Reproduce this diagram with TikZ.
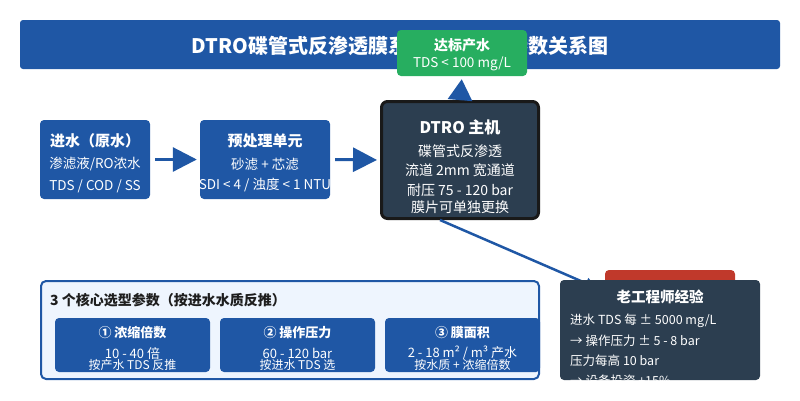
\documentclass[tikz,border=0pt]{standalone}
\usepackage{fontspec}
\setmainfont{Noto Sans CJK SC}
\usetikzlibrary{arrows.meta, calc, positioning}

\definecolor{mainblue}{HTML}{1F57A5}
\definecolor{darkbox}{HTML}{2C3E50}
\definecolor{okgreen}{HTML}{27AE60}
\definecolor{warnred}{HTML}{C0392B}
\definecolor{panelbg}{HTML}{EEF5FE}
\definecolor{inktext}{HTML}{1E1E1E}
\newcommand{\fsz}[1]{\fontsize{#1}{#1}\selectfont}

\begin{document}
\begin{tikzpicture}[
    x=1pt, y=-1pt,
    box/.style={rectangle, rounded corners=4pt, inner sep=0pt},
    bluebox/.style={box, fill=mainblue},
    darkbg/.style={box, fill=darkbox},
    head/.style={inner sep=0pt, text=white, font=\fsz{15}\bfseries},
    body/.style={inner sep=0pt, text=white, font=\fsz{13.5}},
    small/.style={inner sep=0pt, text=white, font=\fsz{12}},
    flow/.style={draw=mainblue, line width=3pt, -{Triangle[length=24pt,width=24pt]}}
]
\useasboundingbox (0,0) rectangle (800,400);

    % Title bar
    \node [bluebox, rounded corners=3pt, minimum width=760pt, minimum height=49pt] (title) at (400,44.5) {};
    \node [inner sep=0pt, text=white, font=\fsz{20}\bfseries] (titleText) at (400,46) {DTRO碟管式反渗透膜系统核心选型参数关系图};

    % Output target (sits over the title)
    \node [box, fill=okgreen, minimum width=130pt, minimum height=46pt] (target) at (462,53) {};
    \node [head, font=\fsz{14}\bfseries] (targetHead) at (462,45) {达标产水};
    \node [body, font=\fsz{13.5}] (targetBody) at (462,64) {TDS < 100 mg/L};

    % Process chain
    \node [bluebox, minimum width=110pt, minimum height=79pt] (feed) at (95,159.5) {};
    \node [head] (feedHead) at (95,141) {进水（原水）};
    \node [body] (feedA) at (95,164) {渗滤液/RO浓水};
    \node [body] (feedB) at (95,186) {TDS / COD / SS};

    \node [bluebox, minimum width=130pt, minimum height=79pt] (pre) at (265,159.5) {};
    \node [head] (preHead) at (265,141) {预处理单元};
    \node [body] (preA) at (265,164) {砂滤 + 芯滤};
    \node [body] (preB) at (265,185) {SDI < 4 / 浊度 < 1 NTU};

    \node [darkbg, rounded corners=6pt, draw=black!90, line width=3pt, minimum width=157pt, minimum height=117pt] (dtro) at (460,160) {};
    \node [head, font=\fsz{16}\bfseries] (dtroHead) at (460,127) {DTRO 主机};
    \node [body, font=\fsz{14}] (dtroA) at (460,151) {碟管式反渗透};
    \node [body, font=\fsz{14}] (dtroB) at (460,170) {流道 2mm 宽通道};
    \node [body, font=\fsz{14}] (dtroC) at (460,190) {耐压 75 - 120 bar};
    \node [body, font=\fsz{14}] (dtroD) at (460,207) {膜片可单独更换};

    % Flow arrows
    \draw [flow, shorten <=5pt, shorten >=3pt] (feed.east) -- (pre.west);
    \draw [flow, shorten <=5pt, shorten >=3pt] (pre.east) -- (dtro.west);
    \draw [flow, -{Triangle[length=21pt,width=24pt]}, shorten >=3pt] (dtro.north) -- (target.south);
    \coordinate (expIn) at (597,288);
    \draw [draw=mainblue, line width=2.5pt, -{Triangle[length=12pt,width=11pt]}] ($(dtro.south)+(-20,0)$) -- (expIn);

    % Selection parameters panel
    \node [box, rounded corners=5pt, fill=panelbg, draw=mainblue, line width=2pt, minimum width=498pt, minimum height=98pt] (params) at (290,330) {};
    \node [inner sep=0pt, anchor=west, text=inktext, font=\fsz{14}\bfseries] (paramsHead) at (50,300) {3 个核心选型参数（按进水水质反推）};

    \node [bluebox, minimum width=155pt, minimum height=54pt] (ratio) at (132.5,345) {};
    \node [head, font=\fsz{13}\bfseries] (ratioHead) at (132.5,333) {① 浓缩倍数};
    \node [body, font=\fsz{13}] (ratioA) at (132.5,353) {10 - 40 倍};
    \node [small] (ratioB) at (132.5,365) {按产水 TDS 反推};

    \node [bluebox, minimum width=155pt, minimum height=54pt] (press) at (297.5,345) {};
    \node [head, font=\fsz{13}\bfseries] (pressHead) at (297.5,333) {② 操作压力};
    \node [body, font=\fsz{13}] (pressA) at (297.5,353) {60 - 120 bar};
    \node [small] (pressB) at (297.5,365) {按进水 TDS 选};

    \node [bluebox, minimum width=155pt, minimum height=54pt] (area) at (462.5,345) {};
    \node [head, font=\fsz{13}\bfseries] (areaHead) at (462.5,333) {③ 膜面积};
    \node [body, font=\fsz{13}] (areaA) at (462.5,353) {2 - 18 m² / m³ 产水};
    \node [small] (areaB) at (462.5,365) {按水质 + 浓缩倍数};

    % Experience note
    \node [box, fill=warnred, minimum width=130pt, minimum height=20pt] (tag) at (670,280) {};
    \node [darkbg, minimum width=200pt, minimum height=100pt] (exp) at (660,330) {};
    \begin{scope}
        \clip (exp.south west) rectangle (exp.north east);
        \node [head, font=\fsz{14.5}\bfseries] (expHead) at (660,297) {老工程师经验};
        \node [body, font=\fsz{12.5}, anchor=west] (expA) at (570,321) {进水 TDS 每 ± 5000 mg/L};
        \node [body, font=\fsz{12.5}, anchor=west] (expB) at (570,341) {→ 操作压力 ± 5 - 8 bar};
        \node [body, font=\fsz{12.5}, anchor=west] (expC) at (570,361) {压力每高 10 bar};
        \node [body, font=\fsz{12.5}, anchor=west] (expD) at (570,381) {→ 设备投资 +15\%};
    \end{scope}

\end{tikzpicture}
\end{document}
